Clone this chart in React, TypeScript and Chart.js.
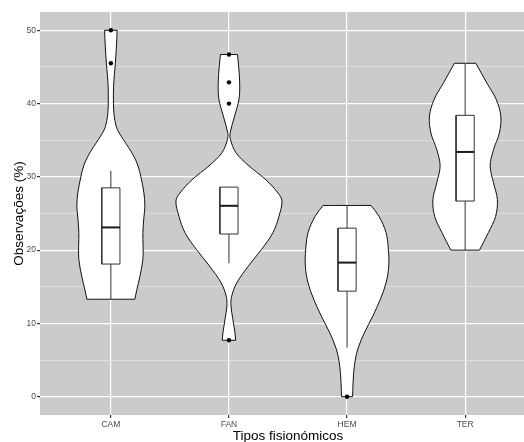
import React, { useEffect, useRef } from 'react';
import { Chart, registerables } from 'chart.js';

Chart.register(...registerables);

// ---- data ----
const categories = ['CAM', 'FAN', 'HEM', 'TER'];

// violin density profiles: levels (%) and half-widths (in category units)
const camLevels = [13.3, 14.6, 16.4, 18.7, 20.5, 22.4, 24.5, 26.0, 27.8, 30.0, 31.5, 32.8, 34.0, 35.1, 36.0, 36.9, 38.5, 40.0, 42.3, 44.0, 45.5, 48.0, 50.0];
const camDensity = [0.203, 0.22, 0.246, 0.271, 0.273, 0.271, 0.28, 0.288, 0.28, 0.254, 0.23, 0.195, 0.15, 0.106, 0.07, 0.045, 0.027, 0.022, 0.023, 0.03, 0.038, 0.048, 0.053];

const fanLevels = [7.7, 8.7, 10.5, 12.4, 13.7, 15.5, 17.8, 20.1, 22.4, 24.6, 26.7, 27.8, 29.6, 31.5, 33.3, 35.1, 36.0, 38.3, 40.6, 42.8, 45.1, 46.7];
const fanDensity = [0.057, 0.051, 0.034, 0.017, 0.023, 0.065, 0.163, 0.276, 0.373, 0.423, 0.449, 0.415, 0.313, 0.169, 0.059, 0.013, 0.01, 0.048, 0.085, 0.091, 0.082, 0.072];

const hemLevels = [0.0, 1.9, 4.2, 6.5, 8.7, 11.0, 13.3, 15.5, 17.8, 20.1, 22.4, 24.6, 26.1];
const hemDensity = [0.047, 0.051, 0.062, 0.091, 0.146, 0.218, 0.282, 0.33, 0.353, 0.35, 0.33, 0.271, 0.203];

const terLevels = [20.0, 22.4, 24.6, 26.9, 29.2, 31.5, 33.7, 36.0, 38.3, 40.6, 42.8, 45.5];
const terDensity = [0.121, 0.197, 0.258, 0.273, 0.24, 0.212, 0.24, 0.29, 0.302, 0.262, 0.184, 0.091];

// boxplot statistics
const boxLower = [13.3, 18.2, 6.7, 20.0];
const boxQ1 = [18.1, 22.2, 14.4, 26.7];
const boxMedian = [23.1, 26.05, 18.3, 33.4];
const boxQ3 = [28.5, 28.6, 23.0, 38.4];
const boxUpper = [30.8, 28.6, 26.1, 45.5];
const camOutliers = [45.5, 50.0];
const fanOutliers = [7.7, 40.0, 42.9, 46.7];
const hemOutliers = [0.0];
const terOutliers: number[] = [];

const yTicks = [0, 5, 10, 15, 20, 25, 30, 35, 40, 45, 50];
const xTitle = 'Tipos fisionómicos';
const yTitle = 'Observações (%)';

const FONT = "'Liberation Sans', Arial, Helvetica, sans-serif";
const BOX_HALF = 0.077;

const violinLevels = [camLevels, fanLevels, hemLevels, terLevels];
const violinDensity = [camDensity, fanDensity, hemDensity, terDensity];
const outlierSets = [camOutliers, fanOutliers, hemOutliers, terOutliers];

// closed outline; corner vertices are repeated so the curve keeps sharp flat ends
function violinPolygon(c: number, levels: number[], dens: number[]) {
  const right = levels.map((y, i) => ({ x: c + dens[i], y }));
  const left = levels.map((y, i) => ({ x: c - dens[i], y })).reverse();
  const rTop = right[right.length - 1];
  const lTop = left[0];
  const lBot = left[left.length - 1];
  return [...right, rTop, lTop, ...left, lBot, right[0]];
}

const panelBg = {
  id: 'panelBg',
  beforeDraw(chart: any) {
    const { ctx, chartArea: a } = chart;
    ctx.save();
    ctx.fillStyle = '#CBCBCB';
    ctx.fillRect(a.left, a.top, a.right - a.left, a.bottom - a.top);
    ctx.restore();
  },
};

export default function App() {
  const ref = useRef<HTMLCanvasElement | null>(null);

  useEffect(() => {
    if (!ref.current) return;
    const datasets: any[] = [];
    categories.forEach((_, i) => {
      const c = i + 1;
      datasets.push({
        data: violinPolygon(c, violinLevels[i], violinDensity[i]),
        showLine: true,
        fill: 'shape',
        backgroundColor: '#FFFFFF',
        borderColor: '#111111',
        borderWidth: 1,
        pointRadius: 0,
        tension: 0.35,
        order: 4,
      });
      datasets.push({
        data: [
          { x: c - BOX_HALF, y: boxQ1[i] },
          { x: c + BOX_HALF, y: boxQ1[i] },
          { x: c + BOX_HALF, y: boxQ3[i] },
          { x: c - BOX_HALF, y: boxQ3[i] },
          { x: c - BOX_HALF, y: boxQ1[i] },
        ],
        showLine: true,
        fill: 'shape',
        backgroundColor: '#FFFFFF',
        borderColor: '#333333',
        borderWidth: 1,
        pointRadius: 0,
        tension: 0,
        order: 3,
      });
      datasets.push({
        data: [{ x: c, y: boxLower[i] }, { x: c, y: boxQ1[i] }],
        showLine: true,
        borderColor: '#333333',
        borderWidth: 1,
        pointRadius: 0,
        order: 2,
      });
      datasets.push({
        data: [{ x: c, y: boxQ3[i] }, { x: c, y: boxUpper[i] }],
        showLine: true,
        borderColor: '#333333',
        borderWidth: 1,
        pointRadius: 0,
        order: 2,
      });
      datasets.push({
        data: [{ x: c - BOX_HALF, y: boxMedian[i] }, { x: c + BOX_HALF, y: boxMedian[i] }],
        showLine: true,
        borderColor: '#1a1a1a',
        borderWidth: 2,
        pointRadius: 0,
        order: 2,
      });
      datasets.push({
        data: outlierSets[i].map((y) => ({ x: c, y })),
        showLine: false,
        pointRadius: 2.2,
        pointBackgroundColor: '#000000',
        pointBorderColor: '#000000',
        pointBorderWidth: 0,
        order: 1,
      });
    });

    const chart = new Chart(ref.current, {
      type: 'scatter',
      data: { datasets },
      plugins: [panelBg],
      options: {
        animation: false,
        responsive: false,
        devicePixelRatio: 1,
        layout: { padding: { top: 12, right: 4, left: 0, bottom: 0 } },
        plugins: { legend: { display: false }, tooltip: { enabled: false } },
        scales: {
          x: {
            type: 'linear',
            min: 0.4,
            max: 4.6,
            afterBuildTicks: (s: any) => {
              s.ticks = categories.map((_, i) => ({ value: i + 1 }));
            },
            afterFit: (s: any) => {
              s.height = 37;
            },
            ticks: {
              autoSkip: false,
              maxRotation: 0,
              padding: 1.5,
              color: '#4D4D4D',
              font: { family: FONT, size: 8.5 },
              callback: (v: any) => categories[Math.round(Number(v)) - 1] ?? '',
            },
            grid: {
              color: '#FFFFFF',
              lineWidth: 1.2,
              tickLength: 3,
              tickColor: '#333333',
            },
            border: { display: false },
            title: {
              display: true,
              text: xTitle,
              color: '#000000',
              font: { family: FONT, size: 13.5 },
              padding: { top: 0, bottom: 7.2 },
            },
          },
          y: {
            type: 'linear',
            min: -2.5,
            max: 52.5,
            afterBuildTicks: (s: any) => {
              s.ticks = yTicks.map((v) => ({ value: v }));
            },
            afterFit: (s: any) => {
              s.width = 40;
            },
            ticks: {
              padding: 1,
              color: '#4D4D4D',
              font: { family: FONT, size: 8.5 },
              callback: (v: any) => (Number(v) % 10 === 0 ? String(v) : ''),
            },
            grid: {
              color: (ctx: any) => (ctx.tick && ctx.tick.value % 10 === 0 ? '#FFFFFF' : '#E2E2E2'),
              lineWidth: (ctx: any) => (ctx.tick && ctx.tick.value % 10 === 0 ? 1.2 : 0.8),
              tickLength: 3,
              tickColor: (ctx: any) => (ctx.tick && ctx.tick.value % 10 === 0 ? '#333333' : 'rgba(0,0,0,0)'),
            },
            border: { display: false },
            title: {
              display: true,
              text: yTitle,
              color: '#000000',
              font: { family: FONT, size: 13.5 },
              padding: { top: 11.2, bottom: 0 },
            },
          },
        },
      } as any,
    });
    return () => chart.destroy();
  }, []);

  return (
    <div style={{ position: 'fixed', left: 0, top: 0, width: 524, height: 442, overflow: 'hidden', background: '#FFFFFF' }}>
      <canvas ref={ref} width={540} height={452} style={{ display: 'block' }} />
    </div>
  );
}
